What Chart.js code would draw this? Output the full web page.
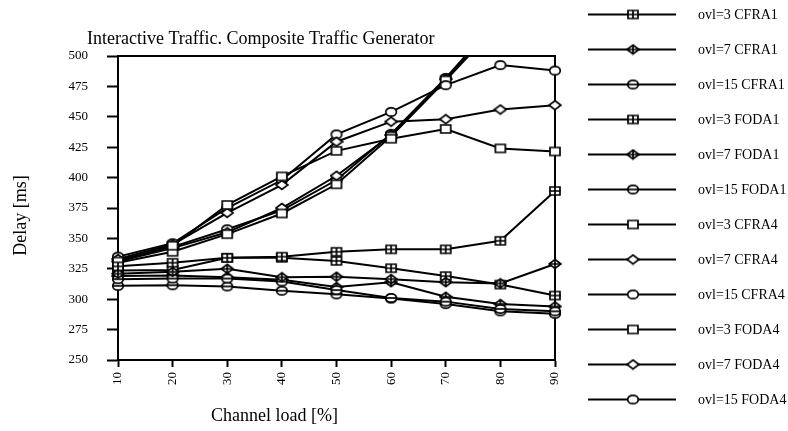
<!DOCTYPE html>
<html>
<head>
<meta charset="utf-8">
<script src="https://cdn.jsdelivr.net/npm/chart.js@4/dist/chart.umd.min.js"></script>
<style>
html,body{margin:0;padding:0;background:#fff;}
#wrap{width:788px;height:431px;}
</style>
</head>
<body>
<div id="wrap"><canvas id="c" width="788" height="431"></canvas></div>
<script>
// ---- data ----
const loads = [10, 20, 30, 40, 50, 60, 70, 80, 90];
const yTicks = [250, 275, 300, 325, 350, 375, 400, 425, 450, 475, 500];

const ovl3CFRA1  = [327, 330, 334, 335, 339, 341, 341, 348, 389];
const ovl7CFRA1  = [321, 322.5, 325, 318, 318.5, 316.5, 314, 313, 329];
const ovl15CFRA1 = [316.5, 317, 317, 314.5, 307.5, 301, 298, 292, 290];
const ovl3FODA1  = [323.5, 324, 334, 334, 331.5, 325.5, 319, 312, 303];
const ovl7FODA1  = [319, 319.5, 318, 316, 310, 314, 302, 296, 294];
const ovl15FODA1 = [311, 311.5, 310.5, 307, 304, 300.5, 296, 290, 288];
const ovl3CFRA4  = [331, 344, 377.5, 401, 422, 432, 440, 424, 421.5];
const ovl7CFRA4  = [333, 345, 371, 394, 429.5, 446, 448, 456, 459.5];
const ovl15CFRA4 = [335, 346, 375, 398, 435.5, 454, 476, 492.5, 488];
const ovl3FODA4  = [330, 339, 353.5, 370.5, 394.5, 434, 480, 528, 575];
const ovl7FODA4  = [331, 342, 355, 375, 401.5, 435, 481, 530, 578];
const ovl15FODA4 = [332, 343, 357.5, 373, 398, 436, 482, 532, 580];

const seriesLabels = ['ovl=3 CFRA1','ovl=7 CFRA1','ovl=15 CFRA1','ovl=3 FODA1','ovl=7 FODA1','ovl=15 FODA1',
                      'ovl=3 CFRA4','ovl=7 CFRA4','ovl=15 CFRA4','ovl=3 FODA4','ovl=7 FODA4','ovl=15 FODA4'];
const seriesValues = [ovl3CFRA1, ovl7CFRA1, ovl15CFRA1, ovl3FODA1, ovl7FODA1, ovl15FODA1,
                      ovl3CFRA4, ovl7CFRA4, ovl15CFRA4, ovl3FODA4, ovl7FODA4, ovl15FODA4];
const seriesMarkers = ['square+','diamond+','circle+','square+','diamond+','circle+',
                       'square','diamond','circle','square','diamond','circle'];

// ---- marker images ----
function makeMarker(kind) {
  const shape = kind.replace('+','');
  const crossed = kind.endsWith('+');
  const c = document.createElement('canvas');
  c.width = 14; c.height = 12;
  const g = c.getContext('2d');
  g.lineWidth = 1.7; g.strokeStyle = '#000'; g.fillStyle = '#fff';
  g.beginPath();
  if (shape === 'square') g.rect(2, 2, 10, 8);
  else if (shape === 'diamond') { g.moveTo(7, 1.5); g.lineTo(13, 6); g.lineTo(7, 10.5); g.lineTo(1, 6); g.closePath(); }
  else g.ellipse(7, 6, 5.3, 4.2, 0, 0, Math.PI * 2);
  g.fill(); g.stroke();
  if (crossed) {
    g.beginPath();
    g.moveTo(1.5, 6); g.lineTo(12.5, 6);
    if (shape !== 'circle') { g.moveTo(7, 2); g.lineTo(7, 10); }
    g.stroke();
  }
  return c;
}
const markerImgs = {};
seriesMarkers.forEach(k => { if (!markerImgs[k]) markerImgs[k] = makeMarker(k); });

const FONT = "'Liberation Serif', 'Times New Roman', serif";

const datasets = seriesLabels.map((lab, i) => ({
  label: lab,
  data: seriesValues[i],
  borderColor: '#000',
  backgroundColor: '#fff',
  borderWidth: 2,
  pointStyle: markerImgs[seriesMarkers[i]],
  pointRadius: 5,
  tension: 0,
  fill: false
}));

const decor = {
  id: 'decor',
  beforeDatasetsDraw(chart) {
    const {ctx, chartArea: a} = chart;
    ctx.save();
    ctx.strokeStyle = '#000';
    ctx.lineWidth = 2;
    ctx.strokeRect(a.left, a.top, a.right - a.left, a.bottom - a.top);
    ctx.restore();
  },
  afterDraw(chart) {
    const ctx = chart.ctx;
    ctx.save();
    ctx.fillStyle = '#000';
    // title
    ctx.font = '18px ' + FONT;
    ctx.textAlign = 'left';
    ctx.textBaseline = 'alphabetic';
    ctx.fillText('Interactive Traffic. Composite Traffic Generator', 87, 44);
    // x title
    ctx.fillText('Channel load [%]', 211, 421);
    // y title
    ctx.save();
    ctx.translate(26, 215.5);
    ctx.rotate(-Math.PI / 2);
    ctx.textAlign = 'center';
    ctx.fillText('Delay [ms]', 0, 0);
    ctx.restore();
    // legend
    ctx.font = '14px ' + FONT;
    ctx.textBaseline = 'middle';
    chart.data.datasets.forEach((ds, i) => {
      const y = 14.5 + 35 * i;
      ctx.strokeStyle = '#000';
      ctx.lineWidth = 2;
      ctx.beginPath();
      ctx.moveTo(588, y); ctx.lineTo(676, y);
      ctx.stroke();
      const img = ds.pointStyle;
      ctx.drawImage(img, 633 - img.width / 2, y - img.height / 2);
      ctx.fillText(ds.label, 698, y + 1);
    });
    ctx.restore();
  }
};

new Chart(document.getElementById('c'), {
  type: 'line',
  data: { labels: loads, datasets },
  plugins: [decor],
  options: {
    responsive: false,
    animation: false,
    devicePixelRatio: 1,
    layout: { padding: { left: 0, top: 56, right: 233, bottom: 0 } },
    plugins: { legend: { display: false }, title: { display: false }, tooltip: { enabled: false } },
    scales: {
      x: {
        type: 'category',
        offset: false,
        grid: { display: true, drawOnChartArea: false, drawTicks: true, tickLength: 7, tickWidth: 2, color: '#000', offset: false },
        border: { display: true, color: '#000', width: 2 },
        ticks: { color: '#000', font: { family: FONT, size: 13 }, maxRotation: 90, minRotation: 90, padding: 5, autoSkip: false },
        afterFit(s) { s.height = 71; }
      },
      y: {
        type: 'linear',
        min: 250, max: 500,
        afterBuildTicks(s) { s.ticks = yTicks.map(v => ({ value: v })); },
        grid: { display: true, drawOnChartArea: false, drawTicks: true, tickLength: 11, tickWidth: 2, color: '#000' },
        border: { display: true, color: '#000', width: 2 },
        ticks: { color: '#000', font: { family: FONT, size: 13 }, padding: 19 },
        afterFit(s) { s.width = 118; }
      }
    }
  }
});
</script>
</body>
</html>
